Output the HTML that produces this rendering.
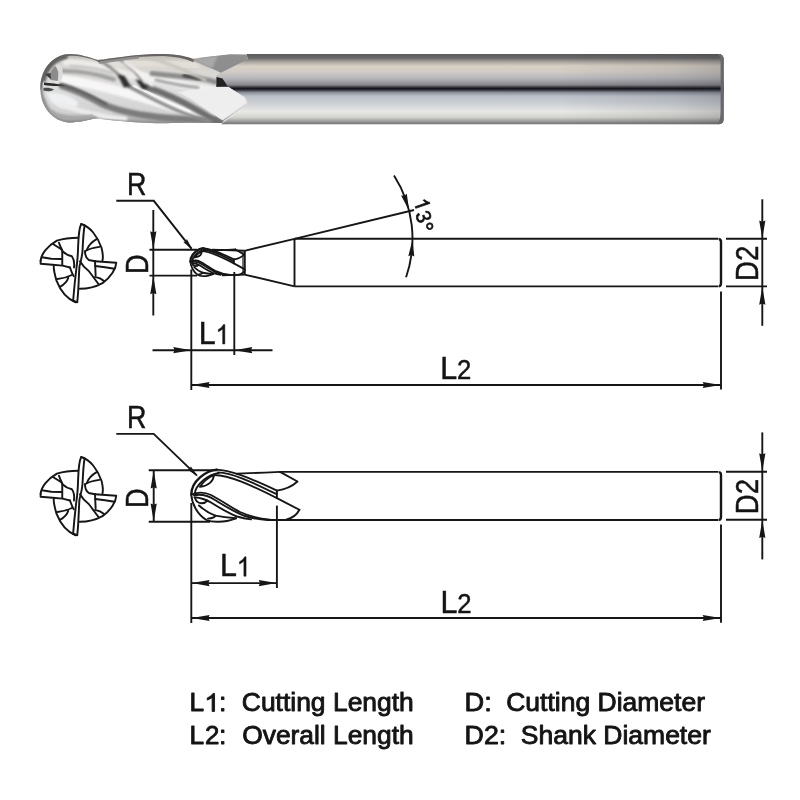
<!DOCTYPE html>
<html><head><meta charset="utf-8">
<style>
html,body{margin:0;padding:0;background:#fff;}
body{width:800px;height:800px;overflow:hidden;font-family:"Liberation Sans",sans-serif;}
svg{display:block;position:absolute;left:0;top:0;will-change:transform;}
svg text{font-family:"Liberation Sans",sans-serif;fill:#141414;}
.ln{stroke:#161616;stroke-width:1.9;fill:none;stroke-linecap:butt;}
.ar{fill:#161616;stroke:none;}
#legend text{stroke:#141414;stroke-width:0.85;stroke-linejoin:round;}
#labels text{stroke:#141414;stroke-width:0.5;}
</style></head>
<body>
<svg width="800" height="800" viewBox="0 0 800 800">
<defs>
<linearGradient id="shank" x1="0" y1="54" x2="0" y2="124.2" gradientUnits="userSpaceOnUse">
<stop offset="0" stop-color="#5a5a5c"/>
<stop offset="0.06" stop-color="#6c6a6a"/>
<stop offset="0.11" stop-color="#a8a39c"/>
<stop offset="0.17" stop-color="#d8d0c4"/>
<stop offset="0.25" stop-color="#d0ccc6"/>
<stop offset="0.345" stop-color="#b8b8bc"/>
<stop offset="0.44" stop-color="#88888e"/>
<stop offset="0.475" stop-color="#34343a"/>
<stop offset="0.495" stop-color="#101018"/>
<stop offset="0.515" stop-color="#3a3c44"/>
<stop offset="0.55" stop-color="#8e929c"/>
<stop offset="0.60" stop-color="#bcc0c8"/>
<stop offset="0.70" stop-color="#ccd0d4"/>
<stop offset="0.82" stop-color="#e8e8e4"/>
<stop offset="0.90" stop-color="#d4d4d0"/>
<stop offset="0.955" stop-color="#a0a0a0"/>
<stop offset="1" stop-color="#707070"/>
</linearGradient>
<linearGradient id="endshade" x1="560" y1="0" x2="722" y2="0" gradientUnits="userSpaceOnUse">
<stop offset="0" stop-color="#202028" stop-opacity="0"/><stop offset="0.7" stop-color="#202028" stop-opacity="0.10"/><stop offset="1" stop-color="#202028" stop-opacity="0.2"/>
</linearGradient>
</defs>
<!-- PHOTO -->
<g id="photo">
<path d="M246.5,54 H719 Q723.8,54.5 723.8,60 V118.5 Q723.8,124 719,124.2 H221 L247.5,104 Z" fill="url(#shank)"/>
<path d="M246.5,54 H719 Q723.8,54.5 723.8,60 V118.5 Q723.8,124 719,124.2 H221 L247.5,104 Z" fill="url(#endshade)"/>
<path d="M718,54 H719 Q723.8,54.5 723.8,60 V118.5 Q723.8,124 719,124.2 H718 Q721,118 720.6,112 V62 Q720.6,57 718,54 Z" fill="#68686e"/>
<defs>
<filter id="b1" x="-20%" y="-40%" width="140%" height="180%"><feGaussianBlur stdDeviation="1.1"/></filter>
<filter id="b2" x="-20%" y="-40%" width="140%" height="180%"><feGaussianBlur stdDeviation="2"/></filter>
<filter id="b08" x="-20%" y="-40%" width="140%" height="180%"><feGaussianBlur stdDeviation="0.8"/></filter>
<filter id="b05" x="-20%" y="-40%" width="140%" height="180%"><feGaussianBlur stdDeviation="0.6"/></filter>
<linearGradient id="hbase" x1="0" y1="54" x2="0" y2="123" gradientUnits="userSpaceOnUse">
<stop offset="0" stop-color="#b4b0ab"/><stop offset="0.1" stop-color="#d6d2cc"/><stop offset="0.5" stop-color="#dedede"/><stop offset="0.85" stop-color="#d2d2d2"/><stop offset="1" stop-color="#9a9a9a"/>
</linearGradient>
<clipPath id="hclip"><path d="M40.3,88 C40.3,70 52,54.5 70,54 C80,54 88,57 98,60 C112,58.5 130,55 150,54.2 C165,53.5 180,54 192.5,58.5 L230,54.3 L246.5,54.5 L248,59 L248,104 L224,121 L222,123 L190,122.8 C170,123.2 160,123.4 150,123 C130,122.5 110,120 95,118.6 C88,120 80,122.3 70,122.4 C52,122 40.3,106 40.3,88 Z"/></clipPath>
</defs>
<g clip-path="url(#hclip)">
<rect x="38" y="50" width="215" height="78" fill="url(#hbase)"/>
<path d="M220,73 L247.7,59 L250,59 L250,105 L245,97.5 L228.5,87 L216,87 L216,76 Z" fill="url(#shank)"/>
<g fill="none" stroke-linecap="round" stroke-linejoin="round">
<!-- lower-left ball shading -->
<path d="M43,100 C48,114 58,121 72,121.5 C82,121 90,118.5 96,117" stroke="#b2b2b2" stroke-width="5" filter="url(#b1)"/>
<!-- whites -->
<path d="M60,79 C85,82 110,88 150,100 C175,108 195,113 210,117" stroke="#f6f6f6" stroke-width="9" filter="url(#b1)"/>
<path d="M135,74 C155,80 180,84 214,91" stroke="#f2f2f2" stroke-width="8" filter="url(#b1)"/>
<path d="M66,62 C85,63 110,68 132,76" stroke="#ecebe8" stroke-width="7" filter="url(#b1)"/>
<path d="M110,64 C135,62 165,62 196,66" stroke="#e2ded8" stroke-width="7" filter="url(#b1)"/>
<!-- band D lower-left -->
<path d="M62,86 C75,90 88,96 102,104 C120,112 145,116 170,118.3 C190,119.8 205,120.5 215,121" stroke="#7c7c7c" stroke-width="6.5" filter="url(#b1)"/>
<path d="M60,84.5 C74,88 90,95 106,104" stroke="#585858" stroke-width="2.2" filter="url(#b08)"/>
<!-- bright blob under the Y -->
<path d="M47,93 C58,92 68,95 77,101 C80,105 76,109 66,108.5 C56,107.5 49,101 47,93 Z" fill="#eef0f2" stroke="none" filter="url(#b1)"/>
<!-- light below D -->
<path d="M60,104 C80,112 100,116.5 125,119" stroke="#ececec" stroke-width="5" filter="url(#b1)"/>
<!-- bottom edge -->
<path d="M60,124.5 C90,118 120,123 150,124 C175,124.5 200,124 222,124" stroke="#8c8c8c" stroke-width="3.5" filter="url(#b1)"/>
<!-- band C : from spot2 down to fishtail bottom -->
<path d="M146,87 C160,91.5 180,100 198,110.5 C206,115 213,119 220,122.5" stroke="#6e6e6e" stroke-width="6.5" filter="url(#b08)"/>
<!-- E1 continuing below spot1 -->
<path d="M129,86.5 C145,95 165,106 185,113.5 C195,117 203,119.5 210,121" stroke="#8a8a8a" stroke-width="3.2" filter="url(#b08)"/>
<path d="M134,86 C150,93 170,103.5 190,111.5" stroke="#f4f4f4" stroke-width="2.2" filter="url(#b05)"/>
<!-- brushed streaks on ball/land 1 -->
<path d="M60,71 C78,70.5 96,73.5 114,79.5" stroke="#a0a0a0" stroke-width="4" filter="url(#b1)"/>
<path d="M70,66 C85,66.5 100,69 112,73" stroke="#c4c4c4" stroke-width="2.5" filter="url(#b1)"/>
<!-- E1 upper: from the top dip to spot 1 -->
<path d="M99.5,60.5 C106,64 114,70 121,77" stroke="#8a8a8a" stroke-width="2.6" filter="url(#b08)"/>
<path d="M117.5,74.5 L124.5,76 L131,86.5 L124,87.5 Z" fill="#2e2e2e" stroke="none" filter="url(#b1)"/>
<!-- second edge upper: to spot 2 -->
<path d="M118,58.5 C126,63 135,71 141,80" stroke="#9a9a9a" stroke-width="2.6" filter="url(#b08)"/>
<path d="M135.5,79.5 L141,80.5 L148.5,88.5 L142,88.8 Z" fill="#2c2c2c" stroke="none" filter="url(#b1)"/>
<!-- white edge highlight right of spots -->
<path d="M125,62 C135,69 145,77 152,85" stroke="#f4f2f0" stroke-width="3" filter="url(#b08)"/>
<!-- band B : brushed streaks on land 2 toward the wedge -->
<path d="M152,73.5 C165,75 182,76.5 197,78 C205,79 211,80.5 216,82" stroke="#8c8c8c" stroke-width="5" filter="url(#b08)"/>
<path d="M156,80 C168,83 182,86 198,87.5" stroke="#a4a4a4" stroke-width="3" filter="url(#b08)"/>
<path d="M184,75.5 C189,76.2 194,77.2 200,79" stroke="#3c3c3c" stroke-width="3.2" filter="url(#b1)"/>
<path d="M150,58 C165,62 185,70 205,80" stroke="#c8c4be" stroke-width="3" filter="url(#b1)"/>
<!-- top rim -->
<path d="M99,60.6 C115,58.6 130,56 141,55.3 C150,54.7 158,54.3 164,54.5 C175,55 185,57 193,60.4" stroke="#66625e" stroke-width="3" filter="url(#b05)"/>
<path d="M100,62.5 C112,60.8 126,58.5 138,57.5" stroke="#8e8e8e" stroke-width="2.4" filter="url(#b05)"/>
<path d="M40.8,88 C41,70 54,54.6 70,54.2 C80,54 90,56.5 99,60.2" stroke="#666" stroke-width="3" filter="url(#b05)"/>
<path d="M44,80 C46,68 55,59 66,57" stroke="#5e5e5e" stroke-width="4" filter="url(#b1)"/>
<path d="M41,88 C41,106 52,121.5 70,122 C80,122 88,120 95,118.4" stroke="#8a8a8a" stroke-width="3.6" filter="url(#b1)"/>
<path d="M52,112 C60,118 72,119.5 92,116.5" stroke="#a6a6a6" stroke-width="4" filter="url(#b1)"/>
</g>
<!-- ball centre marks -->
<path d="M55,66 C58,69 59.5,74 58,81 L51,80 C49.5,77 49.5,74 50,73 C51.5,70 53,68 55,66 Z" fill="#8c8c8c" filter="url(#b05)"/>
<path d="M55.5,65 C58,64.5 60,65 61.5,66 C63.5,71 63,77 60.5,82.5 L57.5,81.5 C59.5,75 58.5,69.5 55.5,65 Z" fill="#dcdcdc" filter="url(#b05)"/>
<path d="M45,74 L50.5,73 L51,79.5 Z" fill="#3c3c3c" filter="url(#b05)"/>
<path d="M44,82.6 C50,83 58,84 65.5,85.6 C58,86.3 50,86 44,85 Z" fill="#2c2c2c" filter="url(#b05)"/>
<path d="M43.5,88 C47,87.5 51,88 54,89.5 C52,91.5 47,91.8 43.5,90.5 Z" fill="#4c4c4c" filter="url(#b05)"/>
<!-- upper grey flat -->
<path d="M192.5,60 L206,57 L230,54.3 L246.5,54.6 L247.7,59.2 L221,72.8 L206,66 Z" fill="#8e8e8e"/>
<path d="M192.5,60 L206,57 L218,55.6 L212,68.5 L206,66 Z" fill="#a8a8a8" filter="url(#b1)"/>
<!-- white fishtail -->
<path d="M178,92 L218,87 L228.5,87 L245,97.5 L246.8,102.8 L222.5,120.3 L207,110 L190,98.5 Z" fill="#eeeeee" filter="url(#b05)"/>
<!-- dark wedge -->
<path d="M216.5,77 L222.5,78.5 L227.5,86 L216.5,86.5 Z" fill="#242424" filter="url(#b05)"/>
</g>

</g>
<g id="icons">
<g transform="translate(30,215) scale(0.125)">
<g fill="none" stroke="#161616" stroke-width="15.5" stroke-linejoin="round" stroke-linecap="round">
<path d="M410,72 C480,92 540,170 572,262 C582,300 586,335 580,362"/>
<path d="M410,72 C392,105 388,160 385,250 C383,320 380,370 372,420 C362,500 352,600 345,686"/>
<path d="M437,84 C428,130 424,200 420,290 C415,345 402,385 396,410 C390,470 390,600 378,696"/>
<path d="M345,686 L378,698"/>
<path d="M520,370 L690,382 C688,430 650,495 580,545 C520,578 455,590 398,590"/>
<path d="M522,408 L600,418 L676,430"/>
<path d="M520,370 L525,482"/>
<path d="M365,698 C300,672 245,610 212,525 C196,470 188,440 190,408"/>
<path d="M85,365 C90,310 140,248 215,205 C270,188 330,182 385,182"/>
<path d="M85,365 L85,390 L180,398 L260,405 L320,420"/>
<path d="M95,338 L170,350 L250,352"/>
<path d="M258,290 L258,398"/>
<path d="M185,232 C210,250 235,262 255,278"/>
<path d="M232,222 C240,250 255,275 262,292 C280,310 300,322 335,330 C350,350 356,385 352,420"/>
<path d="M320,420 C330,445 335,470 350,490"/>
<path d="M220,512 C260,508 300,498 335,480"/>
<path d="M240,575 C275,555 298,530 306,502"/>
<path d="M530,195 C495,215 468,245 455,278"/>
<path d="M555,255 C515,260 470,272 440,290"/>
<path d="M440,290 C440,320 448,345 470,360 L520,370"/>
<path d="M400,370 C420,405 445,430 470,448 C495,480 520,515 545,548"/>
<path d="M520,495 C550,500 575,512 592,528"/>
</g></g>
<g transform="translate(30,448) scale(0.125)">
<g fill="none" stroke="#161616" stroke-width="15.5" stroke-linejoin="round" stroke-linecap="round">
<path d="M410,72 C480,92 540,170 572,262 C582,300 586,335 580,362"/>
<path d="M410,72 C392,105 388,160 385,250 C383,320 380,370 372,420 C362,500 352,600 345,686"/>
<path d="M437,84 C428,130 424,200 420,290 C415,345 402,385 396,410 C390,470 390,600 378,696"/>
<path d="M345,686 L378,698"/>
<path d="M520,370 L690,382 C688,430 650,495 580,545 C520,578 455,590 398,590"/>
<path d="M522,408 L600,418 L676,430"/>
<path d="M520,370 L525,482"/>
<path d="M365,698 C300,672 245,610 212,525 C196,470 188,440 190,408"/>
<path d="M85,365 C90,310 140,248 215,205 C270,188 330,182 385,182"/>
<path d="M85,365 L85,390 L180,398 L260,405 L320,420"/>
<path d="M95,338 L170,350 L250,352"/>
<path d="M258,290 L258,398"/>
<path d="M185,232 C210,250 235,262 255,278"/>
<path d="M232,222 C240,250 255,275 262,292 C280,310 300,322 335,330 C350,350 356,385 352,420"/>
<path d="M320,420 C330,445 335,470 350,490"/>
<path d="M220,512 C260,508 300,498 335,480"/>
<path d="M240,575 C275,555 298,530 306,502"/>
<path d="M530,195 C495,215 468,245 455,278"/>
<path d="M555,255 C515,260 470,272 440,290"/>
<path d="M440,290 C440,320 448,345 470,360 L520,370"/>
<path d="M400,370 C420,405 445,430 470,448 C495,480 520,515 545,548"/>
<path d="M520,495 C550,500 575,512 592,528"/>
</g></g>
</g>
<g id="d1">
<path class="ln" d="M116.3,200.8 H153.8 L191.5,248.7"/>
<path class="ar" d="M192.80,250.30 L183.26,241.90 L185.87,241.50 L186.87,239.06 Z"/>
<path class="ln" d="M153.3,210 L153.3,315.5"/>
<path class="ar" d="M153.30,249.30 L150.20,231.30 L153.30,232.60 L156.40,231.30 Z"/>
<path class="ar" d="M153.30,276.20 L156.40,294.20 L153.30,292.90 L150.20,294.20 Z"/>
<path class="ln" d="M149.5,249.7 L197,249.7"/>
<path class="ln" d="M149.5,275.6 L197,275.6"/>
<path class="ln" d="M191.3,269.5 L191.3,390"/>
<path class="ln" d="M234.3,272 L234.3,355"/>
<path class="ln" d="M152.5,350.2 L272.5,350.2"/>
<path class="ar" d="M191.30,350.20 L173.30,353.30 L174.60,350.20 L173.30,347.10 Z"/>
<path class="ar" d="M234.30,350.20 L252.30,347.10 L251.00,350.20 L252.30,353.30 Z"/>
<path class="ln" d="M244.5,250.8 L294.5,238.8 M244.5,274.6 L294.5,286.4 M294.5,238.8 V286.4"/>
<path class="ln" d="M294.5,238.8 H718.5 M294.5,286.4 H718.5"/>
<path class="ln" stroke-width="2.4" style="stroke-width:2.4" d="M719,239 Q721,239.5 721,242 V283 Q721,286 719,286.4"/>
<path class="ln" d="M294.5,238.8 L414,210"/>
<path class="ln" d="M394.02,175.40 A118,118 0 0 1 406.07,277.22"/>
<path class="ar" d="M409.19,210.75 L401.08,195.51 L404.34,195.82 L406.79,193.66 Z"/>
<path class="ar" d="M412.50,239.40 L414.31,256.57 L411.40,255.06 L408.32,256.15 Z"/>
<clipPath id="c1"><rect x="180" y="240" width="65.4" height="50"/></clipPath>
<g clip-path="url(#c1)"><g transform="translate(190.4,262.3) scale(0.508,0.533) translate(-191.3,-496)"><g fill="none" stroke="#161616" stroke-width="3.5" stroke-linejoin="round" stroke-linecap="round">
<path stroke-width="4.4" d="M217,469.6 C206,470.5 191.3,481 191.3,494.5"/>
<path d="M191.3,494.5 C191.6,503 197,514.5 207,520.3 C212,522.2 222,522 227,521 C231,520.2 233.5,519.3 236,518.3"/>
<path d="M219,472.9 C208,474.5 195.5,484.5 194.6,494.3"/>
<path d="M214,475 C213.5,481 208.5,486 200,486.8 M200,486.8 C203.5,481.5 208.5,477.5 214,475"/>
<path d="M216,469.6 C230,470 248,477 276.9,490.6"/>
<path d="M218,472.4 C232,473 250,481 276.6,494.2"/>
<path d="M214,475 C230,475.5 250,484.5 276.9,498.1 L299.4,509.75"/>
<path d="M276.9,490.6 V498.1"/>
<path d="M237,473.6 L265,472.6 L280,471.9"/>
<path d="M280,471.9 L297.5,481.5 C292,486.5 285,489.5 276.9,490.6"/>
<path d="M299.4,509.75 C297,514.5 292,518.3 286,519.6 L276,520"/>
<path d="M191.5,494.3 C198,492 205,492 211,495 C220,499.5 232,508 240,512 C250,516.5 258,518.6 270,519.8"/>
<path d="M194,495.3 C200,494 208,495.5 215,500 C224,505.5 235,512.5 245,516 C252,518.3 260,519.6 268,520"/>
<path d="M194.5,497.3 C198,497.6 206,499.5 211,502.5 C219,507.5 228,513 237,516.5 C243,518.5 247,519 251,519.4"/>
<path d="M195,498 C196,501 198,503 201,503.2 C204,503.3 206,502.3 207.3,500.8"/>
<path d="M199,505.5 C204,510 209,513.5 215.3,515.6 C214.8,517 212,518.3 208,518.6"/>
<path d="M215.3,515.6 C222,517 229,517.8 236,518.3"/>
</g></g></g>
<path class="ln" d="M222,275.2 L244.6,274.6 M212,249.6 L244.6,250.8"/>
<path class="ln" d="M244.8,250.6 V274.8"/>
<path class="ln" style="stroke-width:1.2" d="M243,252 V273.6"/>
<path class="ln" d="M726,238.7 L767,238.7"/>
<path class="ln" d="M726,286.4 L767,286.4"/>
<path class="ln" d="M762.3,199.3 L762.3,325.8"/>
<path class="ar" d="M762.30,238.40 L759.20,220.40 L762.30,221.70 L765.40,220.40 Z"/>
<path class="ar" d="M762.30,286.80 L765.40,304.80 L762.30,303.50 L759.20,304.80 Z"/>
<path class="ln" d="M721,291.5 L721,389.6"/>
<path class="ln" d="M191.3,385 L721,385"/>
<path class="ar" d="M191.60,385.00 L209.60,381.90 L208.30,385.00 L209.60,388.10 Z"/>
<path class="ar" d="M720.70,385.00 L702.70,388.10 L704.00,385.00 L702.70,381.90 Z"/>
</g>
<g id="d2">
<path class="ln" d="M116.3,433.9 H153.7 L196.8,475.4"/>
<path class="ar" d="M198.00,476.70 L187.49,469.55 L190.03,468.83 L190.73,466.28 Z"/>
<path class="ln" d="M153.7,471 L153.7,521"/>
<path class="ar" d="M153.70,470.60 L156.80,488.60 L153.70,487.30 L150.60,488.60 Z"/>
<path class="ar" d="M153.70,521.40 L150.60,503.40 L153.70,504.70 L156.80,503.40 Z"/>
<path class="ln" d="M148.7,470.2 H217 M148.7,521.8 H210"/>
<path class="ln" d="M279,471.9 H718.5 M268,520 H718.5"/>
<path class="ln" style="stroke-width:2.4" d="M719,472.1 Q721,472.5 721,475 V517 Q721,519.6 719,520"/>
<path class="ln" d="M191.3,503 L191.3,623"/>
<path class="ln" d="M276.9,505.6 L276.9,588"/>
<path class="ln" d="M191.3,583.1 L277,583.1"/>
<path class="ar" d="M191.60,583.10 L209.60,580.00 L208.30,583.10 L209.60,586.20 Z"/>
<path class="ar" d="M276.70,583.10 L258.70,586.20 L260.00,583.10 L258.70,580.00 Z"/>
<path class="ln" d="M726,471.8 L767,471.8"/>
<path class="ln" d="M726,519.8 L767,519.8"/>
<path class="ln" d="M762.3,432.4 L762.3,559.4"/>
<path class="ar" d="M762.30,471.30 L759.20,453.30 L762.30,454.60 L765.40,453.30 Z"/>
<path class="ar" d="M762.30,520.10 L765.40,538.10 L762.30,536.80 L759.20,538.10 Z"/>
<path class="ln" d="M721,524.5 L721,622.7"/>
<path class="ln" d="M191.3,618 L721,618"/>
<path class="ar" d="M191.60,618.00 L209.60,614.90 L208.30,618.00 L209.60,621.10 Z"/>
<path class="ar" d="M720.70,618.00 L702.70,621.10 L704.00,618.00 L702.70,614.90 Z"/>
<g fill="none" stroke="#161616" stroke-width="1.9" stroke-linejoin="round" stroke-linecap="round">
<path stroke-width="2.4" d="M217,469.6 C206,470.5 191.3,481 191.3,494.5"/>
<path d="M191.3,494.5 C191.6,503 197,514.5 207,520.3 C212,522.2 222,522 227,521 C231,520.2 233.5,519.3 236,518.3"/>
<path d="M219,472.9 C208,474.5 195.5,484.5 194.6,494.3"/>
<path d="M214,475 C213.5,481 208.5,486 200,486.8 M200,486.8 C203.5,481.5 208.5,477.5 214,475"/>
<path d="M216,469.6 C230,470 248,477 276.9,490.6"/>
<path d="M218,472.4 C232,473 250,481 276.6,494.2"/>
<path d="M214,475 C230,475.5 250,484.5 276.9,498.1 L299.4,509.75"/>
<path d="M276.9,490.6 V498.1"/>
<path d="M237,473.6 L265,472.6 L280,471.9"/>
<path d="M280,471.9 L297.5,481.5 C292,486.5 285,489.5 276.9,490.6"/>
<path d="M299.4,509.75 C297,514.5 292,518.3 286,519.6 L276,520"/>
<path d="M191.5,494.3 C198,492 205,492 211,495 C220,499.5 232,508 240,512 C250,516.5 258,518.6 270,519.8"/>
<path d="M194,495.3 C200,494 208,495.5 215,500 C224,505.5 235,512.5 245,516 C252,518.3 260,519.6 268,520"/>
<path d="M194.5,497.3 C198,497.6 206,499.5 211,502.5 C219,507.5 228,513 237,516.5 C243,518.5 247,519 251,519.4"/>
<path d="M195,498 C196,501 198,503 201,503.2 C204,503.3 206,502.3 207.3,500.8"/>
<path d="M199,505.5 C204,510 209,513.5 215.3,515.6 C214.8,517 212,518.3 208,518.6"/>
<path d="M215.3,515.6 C222,517 229,517.8 236,518.3"/>
</g>
</g>
<g id="labels">
<text transform="translate(126.9,194.6) scale(0.88,1)" font-size="30.5" text-anchor="start" >R</text>
<text transform="translate(126.9,427.7) scale(0.88,1)" font-size="30.5" text-anchor="start" >R</text>
<text transform="translate(148.4,264.2) rotate(-90) scale(0.87,1)" font-size="31" text-anchor="middle" >D</text>
<text transform="translate(148.2,498.2) rotate(-90) scale(0.87,1)" font-size="31" text-anchor="middle" >D</text>
<text transform="translate(758,263.3) rotate(-90) scale(0.89,1)" font-size="31" text-anchor="middle" >D2</text>
<text transform="translate(758,496.5) rotate(-90) scale(0.89,1)" font-size="31" text-anchor="middle" >D2</text>
<text transform="translate(198.7,344.0) scale(0.98,1)" font-size="31" text-anchor="start" >L</text><path transform="translate(215.6,344.0) scale(24.84,27)" d="M0.3726,0 L0.2847,0 L0.2847,-0.560 Q0.2529,-0.5298 0.2014,-0.4995 Q0.1499,-0.4692 0.1089,-0.4541 L0.1089,-0.5391 Q0.1826,-0.5737 0.2378,-0.6230 Q0.2930,-0.6724 0.3159,-0.7188 L0.3726,-0.7188 Z" fill="#141414" stroke="#141414" stroke-width="0.0185" stroke-linejoin="round"/>
<text transform="translate(440.3,379.1) scale(0.98,1)" font-size="31" text-anchor="start" >L</text><text transform="translate(457.0,379.1) scale(0.95,1)" font-size="27" text-anchor="start" >2</text>
<text transform="translate(219.89999999999998,576.2) scale(0.98,1)" font-size="31" text-anchor="start" >L</text><path transform="translate(236.79999999999998,576.2) scale(24.84,27)" d="M0.3726,0 L0.2847,0 L0.2847,-0.560 Q0.2529,-0.5298 0.2014,-0.4995 Q0.1499,-0.4692 0.1089,-0.4541 L0.1089,-0.5391 Q0.1826,-0.5737 0.2378,-0.6230 Q0.2930,-0.6724 0.3159,-0.7188 L0.3726,-0.7188 Z" fill="#141414" stroke="#141414" stroke-width="0.0185" stroke-linejoin="round"/>
<text transform="translate(440.59999999999997,612.5) scale(0.98,1)" font-size="31" text-anchor="start" >L</text><text transform="translate(457.29999999999995,612.5) scale(0.95,1)" font-size="27" text-anchor="start" >2</text>
<path transform="translate(415.1,206.55) rotate(71) scale(19.95,21) translate(-0.278,0)" d="M0.3726,0 L0.2847,0 L0.2847,-0.560 Q0.2529,-0.5298 0.2014,-0.4995 Q0.1499,-0.4692 0.1089,-0.4541 L0.1089,-0.5391 Q0.1826,-0.5737 0.2378,-0.6230 Q0.2930,-0.6724 0.3159,-0.7188 L0.3726,-0.7188 Z" fill="#141414" stroke="#141414" stroke-width="0.0333" stroke-linejoin="round"/>
<text transform="translate(416.7,219.0) rotate(71) scale(0.95,1)" font-size="21" text-anchor="middle" style="stroke-width:0.7">3</text>
<text transform="translate(417.0,230.6) rotate(71) scale(1.0,1)" font-size="24" text-anchor="middle" style="stroke-width:0.7">°</text>
</g>
<g id="legend" font-size="25">
<text x="189.6" y="711.4" textLength="14.6" lengthAdjust="spacingAndGlyphs">L</text><path transform="translate(204.3,711.4) scale(27.500000000000004,25)" d="M0.3726,0 L0.2847,0 L0.2847,-0.560 Q0.2529,-0.5298 0.2014,-0.4995 Q0.1499,-0.4692 0.1089,-0.4541 L0.1089,-0.5391 Q0.1826,-0.5737 0.2378,-0.6230 Q0.2930,-0.6724 0.3159,-0.7188 L0.3726,-0.7188 Z" fill="#141414" stroke="#141414" stroke-width="0.0340" stroke-linejoin="round"/><text x="218.9" y="711.4" textLength="7.4" lengthAdjust="spacingAndGlyphs">:</text><text x="241.8" y="711.4" textLength="172" lengthAdjust="spacingAndGlyphs">Cutting Length</text>
<text x="189.6" y="744.2" textLength="14.6" lengthAdjust="spacingAndGlyphs">L</text><text x="205.0" y="744.2" textLength="14.4" lengthAdjust="spacingAndGlyphs">2</text><text x="218.9" y="744.2" textLength="7.4" lengthAdjust="spacingAndGlyphs">:</text><text x="242.2" y="744.2" textLength="171.5" lengthAdjust="spacingAndGlyphs">Overall Length</text>
<text x="464.6" y="711.4" textLength="27.2" lengthAdjust="spacingAndGlyphs">D:</text><text x="506.2" y="711.4" textLength="198.8" lengthAdjust="spacingAndGlyphs">Cutting Diameter</text>
<text x="464.6" y="744.2" textLength="41.6" lengthAdjust="spacingAndGlyphs">D2:</text><text x="520.8" y="744.2" textLength="190" lengthAdjust="spacingAndGlyphs">Shank Diameter</text>
</g>
</svg>
</body></html>
